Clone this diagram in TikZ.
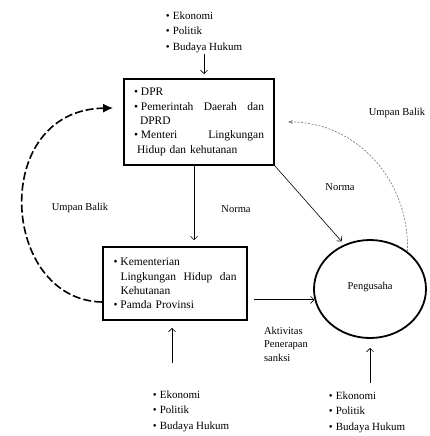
\documentclass[tikz,border=0pt]{standalone}
\usepackage{fontspec}
\setmainfont{Liberation Serif}
\usetikzlibrary{arrows.meta,shapes.geometric}
\newcommand{\bl}{\makebox[7pt][l]{\textbullet}}
\newcommand{\rata}[2]{\hbox to #1{#2}}
\tikzset{
  box/.style={draw, rectangle, line width=1.8pt, align=left, font=\fontsize{11.5}{14.3}\selectfont, inner sep=0pt},
  butir/.style={align=left, font=\fontsize{11}{15.5}\selectfont, inner sep=1pt},
  lbl/.style={font=\fontsize{10.5}{13.5}\selectfont, inner sep=1pt},
  arr/.style={-{Straight Barb[length=3.5pt]}, semithick},
  fbarr/.style={-{Latex[length=10pt, width=9pt]}, line width=1.6pt, dash pattern=on 8pt off 3pt},
  fbdot/.style={-{Stealth[length=5pt]}, gray, line width=0.7pt, dash pattern=on 2pt off 1.5pt}
}
\begin{document}
\begin{tikzpicture}[x=1pt, y=-1pt]
\useasboundingbox (0,0) rectangle (429,436);
\node[box, text width=130pt, minimum width=150pt, minimum height=86pt] (dpr) at (199,122) {\bl DPR\\
\bl\rata{123pt}{Pemerintah\hfill Daerah\hfill dan}\\
\hspace*{6pt}DPRD\\
\bl\rata{123pt}{Menteri\hfill Lingkungan}\\
\hspace*{3pt}Hidup dan kehutanan};
\node[box, text width=123pt, minimum width=144pt, minimum height=73pt] (kem) at (175,283.5) {\bl Kementerian\\
\hspace*{7pt}\rata{116pt}{Lingkungan\hfill Hidup\hfill dan}\\
\hspace*{7pt}Kehutanan\\
\bl Pamda Provinsi};
\node[draw, ellipse, line width=1.8pt, minimum width=112pt, minimum height=98pt, font=\fontsize{10.5}{12}\selectfont] (peng) at (370,289) {\raisebox{6pt}{Pengusaha}};
\node[butir] (ekoatas) at (204,32) {\bl Ekonomi\\\bl Politik\\\bl Budaya Hukum};
\node[butir] (ekokiri) at (191,411) {\bl Ekonomi\\\bl Politik\\\bl Budaya Hukum};
\node[butir] (ekokanan) at (367,412) {\bl Ekonomi\\\bl Politik\\\bl Budaya Hukum};
\node[lbl] (norma1) at (236,209) {Norma};
\node[lbl] (norma2) at (340,187) {Norma};
\node[lbl] (umpan1) at (80,208) {Umpan Balik};
\node[lbl] (umpan2) at (397,113) {Umpan Balik};
\node[lbl, align=left] (aktiv) at (286,344) {Aktivitas\\Penerapan\\sanksi};
\draw[arr, shorten >=4pt] (ekoatas.south) -- (ekoatas.south |- dpr.north);
\draw[arr, shorten >=6pt] ([xshift=-5pt]dpr.south) -- ([xshift=-5pt]dpr.south |- kem.north);
\draw[arr, shorten >=4pt] (dpr.south east) -- (peng.120);
\draw[arr, shorten <=6pt] (kem.east |- peng.191) -- (peng.191);
\draw[arr] ([xshift=-3pt, yshift=-42pt]kem.south) -- ([xshift=-3pt, yshift=-7pt]kem.south);
\draw[arr] ([yshift=-44pt]peng.south) -- ([yshift=-9pt]peng.south);
\draw[fbarr] ([yshift=-18.5pt]kem.west) .. controls +(-102,-2) and +(-124,2) .. ([xshift=-10pt, yshift=14pt]dpr.west);
\draw[fbdot] (peng.45) .. controls +(2,-72) and +(68,0) .. ([xshift=13pt]dpr.east);
\end{tikzpicture}
\end{document}
